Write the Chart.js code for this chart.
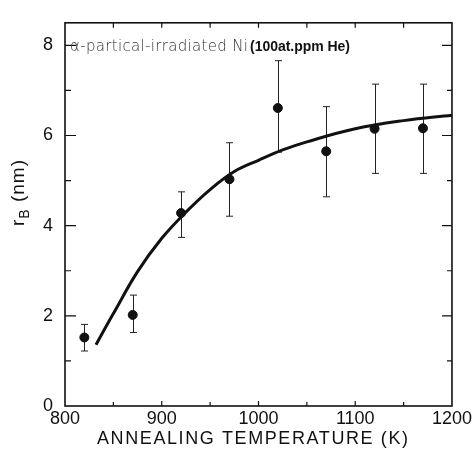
<!DOCTYPE html>
<html>
<head>
<meta charset="utf-8">
<script src="https://cdn.jsdelivr.net/npm/chart.js@4/dist/chart.umd.min.js"></script>
<style>
  html, body { margin: 0; padding: 0; background: #fff; }
  #wrap { width: 474px; height: 449px; }
</style>
</head>
<body>
<div id="wrap"><canvas id="myChart" width="474" height="449"></canvas></div>
<script>
// measured points (annealing temperature in K, bubble radius in nm)
var temps = [820, 870, 920, 970, 1020, 1070, 1120, 1170];
var rB = [1.52, 2.02, 4.28, 5.03, 6.61, 5.65, 6.15, 6.16];
var errLow = [1.22, 1.63, 3.74, 4.21, 5.63, 4.64, 5.16, 5.16];
var errHigh = [1.81, 2.46, 4.75, 5.84, 7.66, 6.64, 7.14, 7.14];

// fitted curve
var curveT = [832, 850, 875, 900, 925, 950, 975, 1000, 1025, 1050, 1100, 1150, 1200];
var curveR = [1.36, 2.05, 2.98, 3.72, 4.3, 4.8, 5.2, 5.45, 5.68, 5.86, 6.15, 6.33, 6.45];

var xTicks = [800, 900, 1000, 1100, 1200];
var yTicks = [0, 2, 4, 6, 8];

var xTitle = 'ANNEALING TEMPERATURE (K)';
var noteLight = '\u03b1-partical-irradiated Ni';
var noteBold = '(100at.ppm He)';

var pts = temps.map(function (t, i) { return { x: t, y: rB[i] }; });
var curve = curveT.map(function (t, i) { return { x: t, y: curveR[i] }; });

// error bars under the dots
var errorBars = {
  id: 'errorBars',
  beforeDatasetsDraw: function (chart) {
    var ctx = chart.ctx, xs = chart.scales.x, ys = chart.scales.y;
    ctx.save();
    ctx.strokeStyle = '#222';
    ctx.lineWidth = 1;
    temps.forEach(function (t, i) {
      var px = Math.round(xs.getPixelForValue(t)) + 0.5;
      var lo = ys.getPixelForValue(errLow[i]);
      var hi = ys.getPixelForValue(errHigh[i]);
      ctx.beginPath();
      ctx.moveTo(px, lo); ctx.lineTo(px, hi);
      ctx.moveTo(px - 3.5, hi); ctx.lineTo(px + 3.5, hi);
      ctx.moveTo(px - 3.5, lo); ctx.lineTo(px + 3.5, lo);
      ctx.stroke();
    });
    ctx.restore();
  }
};

// box frame with inward ticks, titles and the note
var frame = {
  id: 'frame',
  afterDraw: function (chart) {
    var ctx = chart.ctx, a = chart.chartArea, xs = chart.scales.x, ys = chart.scales.y;
    ctx.save();
    ctx.strokeStyle = '#111';
    ctx.lineWidth = 1.6;
    ctx.strokeRect(a.left, a.top, a.right - a.left, a.bottom - a.top);

    ctx.lineWidth = 1.2;
    ctx.beginPath();
    for (var v = 850; v < 1200; v += 50) {
      var px = xs.getPixelForValue(v);
      var len = v % 100 === 0 ? 5 : 4;
      ctx.moveTo(px, a.bottom); ctx.lineTo(px, a.bottom - len);
      ctx.moveTo(px, a.top); ctx.lineTo(px, a.top + 5);
    }
    for (var k = 1; k <= 8; k++) {
      var py = ys.getPixelForValue(k);
      var l2 = k % 2 === 0 ? 11 : 6;
      ctx.moveTo(a.left, py); ctx.lineTo(a.left + l2, py);
      ctx.moveTo(a.right, py); ctx.lineTo(a.right - (k % 2 === 0 ? 10 : 5), py);
    }
    ctx.stroke();

    // x axis title, spread out like the original
    ctx.fillStyle = '#111';
    ctx.font = '18px "Liberation Sans"';
    ctx.textBaseline = 'middle';
    ctx.textAlign = 'left';
    var w0 = ctx.measureText(xTitle).width;
    var spacing = (311 - w0) / (xTitle.length - 1);
    ctx.letterSpacing = spacing + 'px';
    ctx.fillText(xTitle, 97, 439);
    ctx.letterSpacing = '0px';

    // y axis title r_B (nm)
    ctx.save();
    ctx.translate(18, 226);
    ctx.rotate(-Math.PI / 2);
    ctx.textBaseline = 'alphabetic';
    ctx.font = '19px "Liberation Sans"';
    ctx.fillText('r', 0, 6);
    var rw = ctx.measureText('r').width;
    ctx.font = '14px "Liberation Sans"';
    ctx.fillText('B', rw + 1, 11);
    var bw = ctx.measureText('B').width;
    ctx.font = '19px "Liberation Sans"';
    ctx.letterSpacing = '1px';
    ctx.fillText(' (nm)', rw + bw + 2, 6);
    ctx.letterSpacing = '0px';
    ctx.restore();

    // note in the top left corner
    var nx = xs.getPixelForValue(800) + 5;
    var ny = ys.getPixelForValue(8) + 6;
    ctx.textBaseline = 'alphabetic';
    ctx.fillStyle = '#333';
    ctx.font = '300 15px "DejaVu Sans"';
    var lw = ctx.measureText(noteLight).width;
    ctx.letterSpacing = ((178 - lw) / (noteLight.length - 1)) + 'px';
    ctx.fillText(noteLight, nx, ny);
    ctx.letterSpacing = '0px';
    ctx.fillStyle = '#111';
    ctx.font = 'bold 14px "Liberation Sans"';
    var bw2 = ctx.measureText(noteBold).width;
    ctx.letterSpacing = ((100 - bw2) / (noteBold.length - 1)) + 'px';
    ctx.fillText(noteBold, nx + 180, ny);
    ctx.letterSpacing = '0px';
    ctx.restore();
  }
};

var ctx = document.getElementById('myChart').getContext('2d');
var chart = new Chart(ctx, {
  type: 'scatter',
  data: {
    datasets: [{
      label: 'fit',
      data: curve,
      showLine: true,
      borderColor: '#111',
      borderWidth: 3,
      pointRadius: 0,
      tension: 0.4,
      fill: false
    },
    {
      label: 'rB',
      data: pts,
      backgroundColor: '#111',
      borderColor: '#111',
      pointRadius: 4.5,
      pointStyle: 'circle'
    }]
  },
  options: {
    responsive: false,
    animation: false,
    layout: { padding: { top: 14, right: 22, left: 0, bottom: 0 } },
    plugins: {
      legend: { display: false },
      tooltip: { enabled: false }
    },
    scales: {
      x: {
        type: 'linear',
        min: 800,
        max: 1200,
        afterBuildTicks: function (axis) {
          axis.ticks = xTicks.map(function (v) { return { value: v }; });
        },
        afterFit: function (axis) { axis.height = 43; },
        grid: { display: false, drawTicks: false },
        border: { display: false },
        ticks: {
          padding: 2,
          color: '#111',
          font: { family: 'Liberation Sans', size: 18 },
          maxRotation: 0,
          callback: function (v) { return String(v); }
        }
      },
      y: {
        type: 'linear',
        min: 0,
        max: 8.5,
        afterBuildTicks: function (axis) {
          axis.ticks = yTicks.map(function (v) { return { value: v }; });
        },
        afterFit: function (axis) { axis.width = 65; },
        grid: { display: false, drawTicks: false },
        border: { display: false },
        ticks: {
          padding: 12,
          color: '#111',
          font: { family: 'Liberation Sans', size: 18 },
          callback: function (v) { return String(v); }
        }
      }
    }
  },
  plugins: [errorBars, frame]
});
</script>
</body>
</html>
